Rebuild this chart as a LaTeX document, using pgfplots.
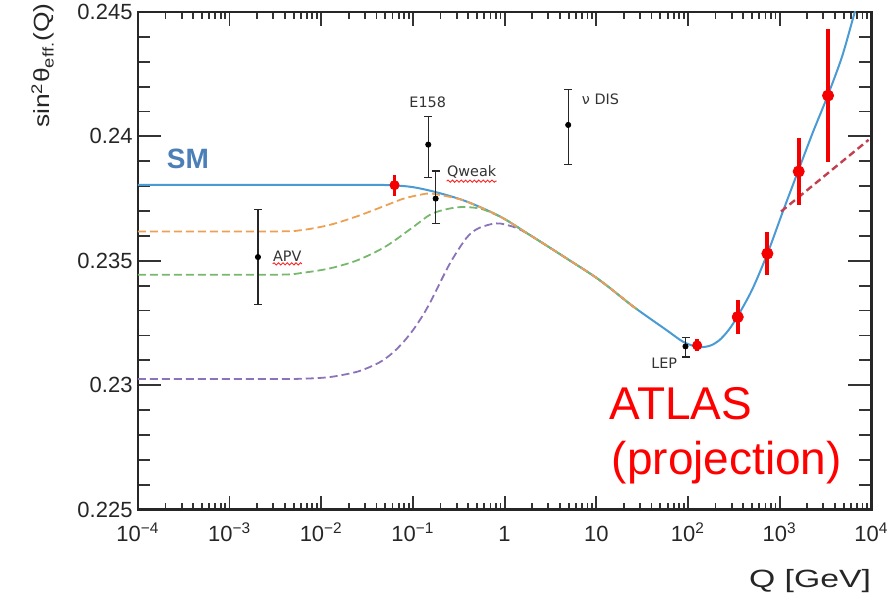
\documentclass[border=0pt]{standalone}
\usepackage{fontspec}
\setmainfont{Liberation Sans}
\newfontfamily\dejavu{DejaVu Sans}
\usepackage{graphicx}
\usepackage{pgfplots}
\pgfplotsset{compat=1.18}
\usetikzlibrary{decorations.pathmorphing}
\definecolor{smblue}{RGB}{74,154,212}
\definecolor{smtext}{RGB}{75,127,184}
\definecolor{orng}{RGB}{238,160,82}
\definecolor{grn}{RGB}{118,184,108}
\definecolor{purp}{RGB}{140,115,185}
\definecolor{dred}{RGB}{192,64,78}
\definecolor{ptred}{RGB}{245,0,0}
\begin{document}
\begin{tikzpicture}
\begin{axis}[
  scale only axis, width=367pt, height=249pt,
  xmode=log, xmin=1e-4, xmax=1e4, ymin=0.225, ymax=0.245,
  xtick={1e-4,1e-3,1e-2,1e-1,1,10,100,1000,10000},
  xticklabels={10\textsuperscript{−4},10\textsuperscript{−3},10\textsuperscript{−2},10\textsuperscript{−1},1,10,10\textsuperscript{2},10\textsuperscript{3},10\textsuperscript{4}},
  ytick={0.225,0.23,0.235,0.24,0.245},
  yticklabels={0.225,0.23,0.235,0.24,0.245},
  minor y tick num=4,
  tick align=inside,
  axis line style={line width=1.3pt, black!85},
  xtick style={line width=0.9pt, black!80, /pgfplots/major tick length=7pt, /pgfplots/minor tick length=3.5pt},
  ytick style={line width=0.9pt, black!80, /pgfplots/major tick length=11.5pt, /pgfplots/minor tick length=6pt},
  ticklabel style={font=\fontsize{11}{13}\selectfont, text=black!85},
  xticklabel style={anchor=base, yshift=-16pt},
  yticklabel style={inner sep=1pt, xshift=-1.5pt},
  ylabel={\scalebox{1.2}[1]{sin\textsuperscript{2}θ\textsubscript{eff.}(Q)}},
  ylabel style={at={(axis description cs:-0.1199,1.018)}, anchor=base east, font=\fontsize{11}{13}\selectfont, text=black!85, inner sep=0pt},
  xlabel={\scalebox{1.35}[1]{Q [GeV]}},
  xlabel style={at={(axis description cs:1,0)}, anchor=base east, yshift=-39pt, font=\fontsize{12.5}{14}\selectfont, text=black!85, inner sep=0pt},
]
% SM curve
\addplot[smblue, line width=1pt, smooth] coordinates {
(1e-4,0.23805) (0.01,0.23805) (0.04,0.23805) (0.063,0.23803) (0.1,0.23796)
(0.1778,0.23776) (0.3802,0.23739) (0.8913,0.23678) (1.995,0.23598)
(4.677,0.23511) (10.72,0.23424) (25.12,0.23317) (57.54,0.23223)
(87.10,0.23176) (114.8,0.23158) (144.5,0.23153) (177.8,0.23160)
(218.8,0.23180) (275.4,0.23220) (346.7,0.23276) (501.2,0.23384)
(741.3,0.23532) (1072,0.23693) (1585,0.23859) (2291,0.24014)
(3311,0.24160) (4786,0.24320) (6607,0.24500) (7500,0.24560)
};
% purple
\addplot[purp, line width=0.9pt, dash pattern=on 4pt off 2pt, smooth] coordinates {
(1e-4,0.23025) (0.00316,0.23025) (0.00631,0.23026) (0.01259,0.23033)
(0.02512,0.23055) (0.03981,0.23085) (0.05012,0.23107) (0.0631,0.23137)
(0.07943,0.23175) (0.1,0.23221) (0.1259,0.23276) (0.1585,0.23341)
(0.2512,0.23487) (0.3802,0.23590) (0.5012,0.23628) (0.7079,0.23647)
(0.8913,0.23650) (1.349,0.23632) (1.995,0.23598) (4.677,0.23511)
(10.72,0.23424) (25.12,0.23317) (28.18,0.23305)
};
% green
\addplot[grn, line width=0.9pt, dash pattern=on 4pt off 2pt, smooth] coordinates {
(1e-4,0.23444) (0.00316,0.23444) (0.00631,0.23452) (0.01259,0.23470)
(0.02512,0.23503) (0.05012,0.23557) (0.1,0.23635) (0.1585,0.23688)
(0.2512,0.23710) (0.3548,0.23716) (0.5623,0.23708) (1.0,0.23668)
(1.585,0.23620) (1.995,0.23598) (4.677,0.23511) (10.72,0.23424)
(25.12,0.23317) (28.18,0.23305)
};
% orange
\addplot[orng, line width=0.9pt, dash pattern=on 4pt off 2pt, smooth] coordinates {
(1e-4,0.23618) (0.00316,0.23618) (0.00631,0.23624) (0.01259,0.23645)
(0.02512,0.23680) (0.05012,0.23722) (0.07943,0.23750) (0.1259,0.23767)
(0.1585,0.23770) (0.2512,0.23757) (0.3802,0.23739) (0.8913,0.23678)
(1.995,0.23598) (4.677,0.23511) (10.72,0.23424) (25.12,0.23317) (28.18,0.23305)
};
% red dashed
\addplot[dred, line width=1.2pt, dash pattern=on 3.5pt off 2pt] coordinates {
(1035,0.23698) (9333,0.23986)
};
% black data points
\addplot[only marks, mark=*, mark size=1.3pt, black,
  error bars/.cd, y dir=both, y explicit,
  error bar style={line width=0.6pt, black!85},
  error mark options={rotate=90, line width=0.6pt, mark size=2pt, black!85}] coordinates {
(0.00204,0.23515) +- (0,0.0019)
(0.147,0.23967) += (0,0.00113) -= (0,0.00133)
(0.177,0.2375) += (0,0.00111) -= (0,0.00101)
(4.94,0.24046) += (0,0.00144) -= (0,0.00158)
(94,0.23156) += (0,0.00037) -= (0,0.00043)
};
% red points small
\addplot[only marks, mark=*, mark size=2.3pt, ptred, mark options={fill=ptred, draw=ptred},
  error bars/.cd, y dir=both, y explicit, error mark=none,
  error bar style={line width=1.8pt, ptred}] coordinates {
(0.063,0.23804) +- (0,0.00042)
(126,0.23160) +- (0,0.00024)
};
% red points ATLAS
\addplot[only marks, mark=*, mark size=2.8pt, ptred, mark options={fill=ptred, draw=ptred},
  error bars/.cd, y dir=both, y explicit, error mark=none,
  error bar style={line width=2pt, ptred}] coordinates {
(349,0.23274) +- (0,0.00067)
(735,0.23529) +- (0,0.00087)
(1614,0.23859) +- (0,0.00135)
(3373,0.24164) +- (0,0.00266)
};
% labels
\node[font=\fontsize{14}{16}\selectfont\bfseries, text=smtext] at (axis cs:3.51e-4,0.2391) {SM};
\node[font=\dejavu\fontsize{7.2}{8}\selectfont, text=black!80] at (axis cs:0.145,0.24139) {E158};
\node[font=\dejavu\fontsize{7.2}{8}\selectfont, text=black!80, anchor=west, inner sep=0pt] (qw) at (axis cs:0.2333,0.23857) {Qweak};
\node[font=\dejavu\fontsize{7.2}{8}\selectfont, text=black!80, anchor=west, inner sep=0pt] at (axis cs:6.9,0.24151) {ν DIS};
\node[font=\dejavu\fontsize{7.2}{8}\selectfont, text=black!80, anchor=west, inner sep=0pt] (apv) at (axis cs:0.002958,0.2352) {APV};
\node[font=\dejavu\fontsize{7.2}{8}\selectfont, text=black!80, anchor=east, inner sep=0pt] at (axis cs:76.9,0.2309) {LEP};
\draw[red!85, line width=0.45pt, decorate, decoration={snake, amplitude=0.55pt, segment length=2.2pt}] ([yshift=-1.2pt]qw.south west) -- ([yshift=-1.2pt]qw.south east);
\draw[red!85, line width=0.45pt, decorate, decoration={snake, amplitude=0.55pt, segment length=2.2pt}] ([yshift=-1.2pt]apv.south west) -- ([yshift=-1.2pt]apv.south east);
\node[font=\fontsize{23}{27}\selectfont, text=red, anchor=base west, inner sep=0pt] at (axis cs:13.93,0.22861) {ATLAS};
\node[font=\fontsize{23}{27}\selectfont, text=red, anchor=base west, inner sep=0pt] at (axis cs:14.66,0.22641) {(projection)};
\end{axis}
\path ([shift={(-69pt,-44pt)}]current axis.south west) rectangle ([shift={(11.5pt,6pt)}]current axis.north east);
\end{tikzpicture}
\end{document}
